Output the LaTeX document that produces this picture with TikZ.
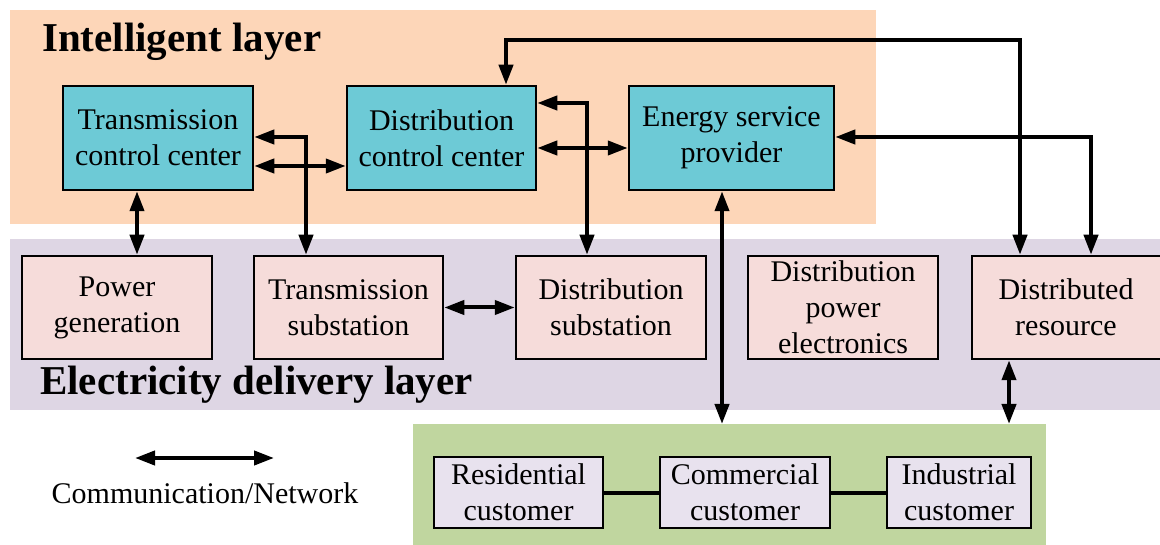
\documentclass[tikz,border=0pt]{standalone}
\usepackage{fontspec}
\setmainfont{Liberation Serif}
\usetikzlibrary{arrows.meta}
\definecolor{orangebg}{HTML}{FDD6B8}
\definecolor{purplebg}{HTML}{DED6E4}
\definecolor{greenbg}{HTML}{C0D69F}
\definecolor{cyanbox}{HTML}{6DCAD6}
\definecolor{pinkbox}{HTML}{F6DCDA}
\definecolor{lavbox}{HTML}{E8E2EE}
\newcommand{\dgboxfont}{\fontsize{30}{36}\selectfont}
\newcommand{\dgtitlefont}{\fontsize{41}{48}\selectfont\bfseries}
\begin{document}
\begin{tikzpicture}[x=1pt,y=-1pt,
  bgrect/.style={draw=none, inner sep=0pt, outer sep=0pt},
  basebox/.style={draw=black, line width=2.5pt, inner sep=0pt, align=center, font=\dgboxfont},
  ctrl/.style={basebox, fill=cyanbox, minimum height=104pt},
  dlv/.style={basebox, fill=pinkbox, minimum height=103pt, minimum width=190pt},
  cust/.style={basebox, fill=lavbox, minimum height=71pt},
  title/.style={anchor=base west, inner sep=0pt, font=\dgtitlefont},
  dbl/.style={line width=4pt, {Triangle[length=20pt,width=14pt]}-{Triangle[length=20pt,width=14pt]}},
  plain/.style={line width=4pt}
]
\useasboundingbox (0,0) rectangle (1160,545);
% backgrounds
\node[bgrect, fill=orangebg, minimum width=866pt, minimum height=214pt] (orange) at (443,117) {};
\node[bgrect, fill=purplebg, minimum width=1160pt, minimum height=171pt] (purple) at (590,324.5) {};
\node[bgrect, fill=greenbg, minimum width=633pt, minimum height=126pt] (green) at (729.5,487) {};
% titles
\node[title] (t1) at (42,52) {Intelligent layer};
\node[title] (t2) at (40,395) {Electricity delivery layer};
% intelligent layer boxes
\node[ctrl, minimum width=190pt] (tcc) at (158,138) {Transmission\\control center};
\node[ctrl, minimum width=189pt] (dcc) at (441.5,138) {Distribution\\control center};
\node[ctrl, minimum width=205pt] (esp) at (731.5,138) {Energy service\\provider};
% delivery layer boxes
\node[dlv] (pg) at (117,307.5) {Power\\generation};
\node[dlv, minimum width=189pt] (ts) at (348.5,307.5) {Transmission\\substation};
\node[dlv] (ds) at (611,307.5) {Distribution\\substation};
\node[dlv] (dpe) at (843,307.5) {Distribution\\power\\electronics};
\node[dlv, minimum width=194pt] (dr) at (1069,307.5) {\hspace*{-6pt}Distributed\\\hspace*{-6pt}resource};
% customers
\node[cust, minimum width=169pt] (res) at (518.5,492.5) {Residential\\customer};
\node[cust, minimum width=170pt] (com) at (745,492.5) {Commercial\\customer};
\node[cust, minimum width=144pt] (ind) at (959,492.5) {Industrial\\customer};
% helper coordinates
\coordinate (dccT) at ([xshift=64.5pt]dcc.north);
\coordinate (drT1) at ([xshift=-49pt]dr.north);
\coordinate (drT2) at ([xshift=22pt]dr.north);
\coordinate (topY) at (0,40);
\coordinate (espB) at ([xshift=-9.5pt]esp.south);
\coordinate (drB) at ([xshift=-60pt]dr.south);
% connectors
\draw[dbl] ([xshift=-21pt]tcc.south) -- ([xshift=20pt]pg.north);
\draw[dbl] ([yshift=1pt]tcc.east) -| ([xshift=-42.5pt]ts.north);
\draw[dbl] ([yshift=-28pt]tcc.east) -- ([yshift=-28pt]dcc.west);
\draw[dbl] ([yshift=35pt]dcc.east) -| ([xshift=-24pt]ds.north);
\draw[dbl] ([yshift=-10pt]dcc.east) -- ([yshift=-10pt]esp.west);
\draw[dbl] (dccT) -- (dccT |- topY) -| (drT1);
\draw[dbl] ([yshift=1pt]esp.east) -| (drT2);
\draw[dbl] (espB) -- (espB |- green.north);
\draw[dbl] (ts.east) -- (ds.west);
\draw[dbl] (drB) -- (drB |- green.north);
\draw[plain] (res) -- (com);
\draw[plain] (com) -- (ind);
% legend
\coordinate (legA) at (135,458);
\coordinate (legB) at (274,458);
\draw[dbl] (legA) -- (legB);
\node[inner sep=0pt, font=\dgboxfont] (legtext) at (205,493) {Communication/Network};
\end{tikzpicture}
\end{document}
